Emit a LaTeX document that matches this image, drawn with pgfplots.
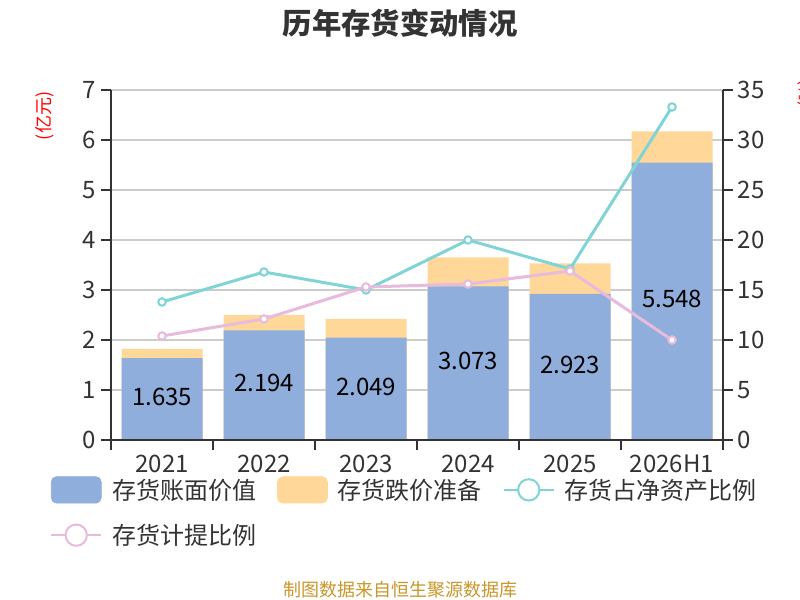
\documentclass[border=0pt]{standalone}
\usepackage{fontspec}
\setmainfont{Noto Sans CJK SC}
\usepackage{pgfplots}
\pgfplotsset{compat=1.18}
\definecolor{barblue}{HTML}{8FAEDB}
\definecolor{barorange}{HTML}{FFD899}
\definecolor{lteal}{HTML}{80D4D6}
\definecolor{lpink}{HTML}{E8BADC}
\definecolor{txt}{HTML}{333333}
\definecolor{gridc}{HTML}{CCCCCC}
\definecolor{foot}{HTML}{C9962A}
\begin{document}
\begin{tikzpicture}[x=1pt,y=1pt]
\useasboundingbox (0,0) rectangle (600,450);
\begin{axis}[
 at={(83.25pt,120pt)}, anchor=south west, scale only axis, width=459pt, height=262.5pt,
 xmin=-0.5, xmax=5.5, ymin=0, ymax=7, ytick={0,...,7},
 axis x line=none, axis y line*=left,
 axis line style={txt, line width=1.2pt},
 ymajorgrids, grid style={gridc, line width=1pt},
 tick align=outside, major tick length=7.5pt,
 ytick style={txt, line width=1.2pt},
 ticklabel style={font=\fontsize{18pt}{20pt}\selectfont, text=txt},
 /pgf/number format/assume math mode=true,
 clip=false,
]
\addplot[ybar, bar width=60.75pt, bar shift=0pt, fill=barorange, draw=none] coordinates {(0,1.82) (1,2.50) (2,2.42) (3,3.65) (4,3.53) (5,6.17)};
\addplot[ybar, bar width=60.75pt, bar shift=0pt, fill=barblue, draw=none] coordinates {(0,1.635) (1,2.194) (2,2.049) (3,3.073) (4,2.923) (5,5.548)};
\addplot[draw=none, mark=none, nodes near coords, point meta=explicit symbolic,
  nodes near coords style={anchor=center, font=\fontsize{18pt}{20pt}\selectfont, text=black}]
  coordinates {(0,0.8575)[1.635] (1,1.137)[2.194] (2,1.0645)[2.049] (3,1.5765)[3.073] (4,1.5015)[2.923] (5,2.814)[5.548]};
\end{axis}
\begin{axis}[
 at={(83.25pt,120pt)}, anchor=south west, scale only axis, width=459pt, height=262.5pt,
 xmin=-0.5, xmax=5.5, ymin=0, ymax=35, ytick={0,5,...,35},
 axis y line*=right, axis x line*=bottom,
 axis line style={txt, line width=1.2pt},
 tick align=outside, major tick length=7.5pt, minor tick length=7.5pt,
 ytick style={txt, line width=1.2pt},
 xtick={0,...,5}, xticklabels={2021,2022,2023,2024,2025,2026H1},
 major x tick style={draw=none},
 minor xtick={-0.5,0.5,1.5,2.5,3.5,4.5,5.5},
 minor x tick style={txt, line width=1.2pt},
 ticklabel style={font=\fontsize{18pt}{20pt}\selectfont, text=txt},
 /pgf/number format/assume math mode=true,
 clip=false,
 legend columns=3, legend cell align=left,
 legend style={at={(-0.0997,-0.1029)}, anchor=north west, draw=none, fill=none,
   inner sep=0pt, nodes={inner sep=0pt}, font=\fontsize{18pt}{20pt}\selectfont, text=txt,
   row sep=15pt,
   /tikz/every odd column/.append style={column sep=7.5pt},
   /tikz/every even column/.append style={column sep=15.75pt}},
]
\addlegendimage{legend image code/.code={\fill[barblue, rounded corners=4pt] (0pt,-10pt) rectangle (37.5pt,10pt);}}
\addlegendentry{存货账面价值}
\addlegendimage{legend image code/.code={\fill[barorange, rounded corners=4pt] (0pt,-10pt) rectangle (37.5pt,10pt);}}
\addlegendentry{存货跌价准备}
\addlegendimage{legend image code/.code={\draw[lteal, line width=1.5pt] (0pt,0pt) -- (37.5pt,0pt); \draw[lteal, line width=1.5pt, fill=white] (18.75pt,0pt) circle (8pt);}}
\addlegendentry{存货占净资产比例}
\addlegendimage{legend image code/.code={\draw[lpink, line width=1.5pt] (0pt,0pt) -- (37.5pt,0pt); \draw[lpink, line width=1.5pt, fill=white] (18.75pt,0pt) circle (8pt);}}
\addlegendentry{存货计提比例}
\addplot[forget plot, lteal, line width=2.25pt, mark=*, mark size=2.8pt, mark options={fill=white, draw=lteal, line width=1.5pt}]
  coordinates {(0,13.8) (1,16.8) (2,15.0) (3,20.0) (4,17.1) (5,33.3)};
\addplot[forget plot, lpink, line width=2.25pt, mark=*, mark size=2.8pt, mark options={fill=white, draw=lpink, line width=1.5pt}]
  coordinates {(0,10.4) (1,12.1) (2,15.3) (3,15.6) (4,16.9) (5,10.0)};
\end{axis}
\node[text=txt, font=\fontsize{22pt}{25pt}\selectfont\bfseries] at (300,432.75) {历年存货变动情况};
\node[text=foot, font=\fontsize{13.5pt}{16pt}\selectfont] at (300,7.5) {制图数据来自恒生聚源数据库};
\node[red, rotate=90, font=\fontsize{13.5pt}{16pt}\selectfont] at (33.75,363) {(亿元)};
\node[red, rotate=90, font=\fontsize{13.5pt}{16pt}\selectfont] at (605,380) {(\%)};
\end{tikzpicture}
\end{document}
